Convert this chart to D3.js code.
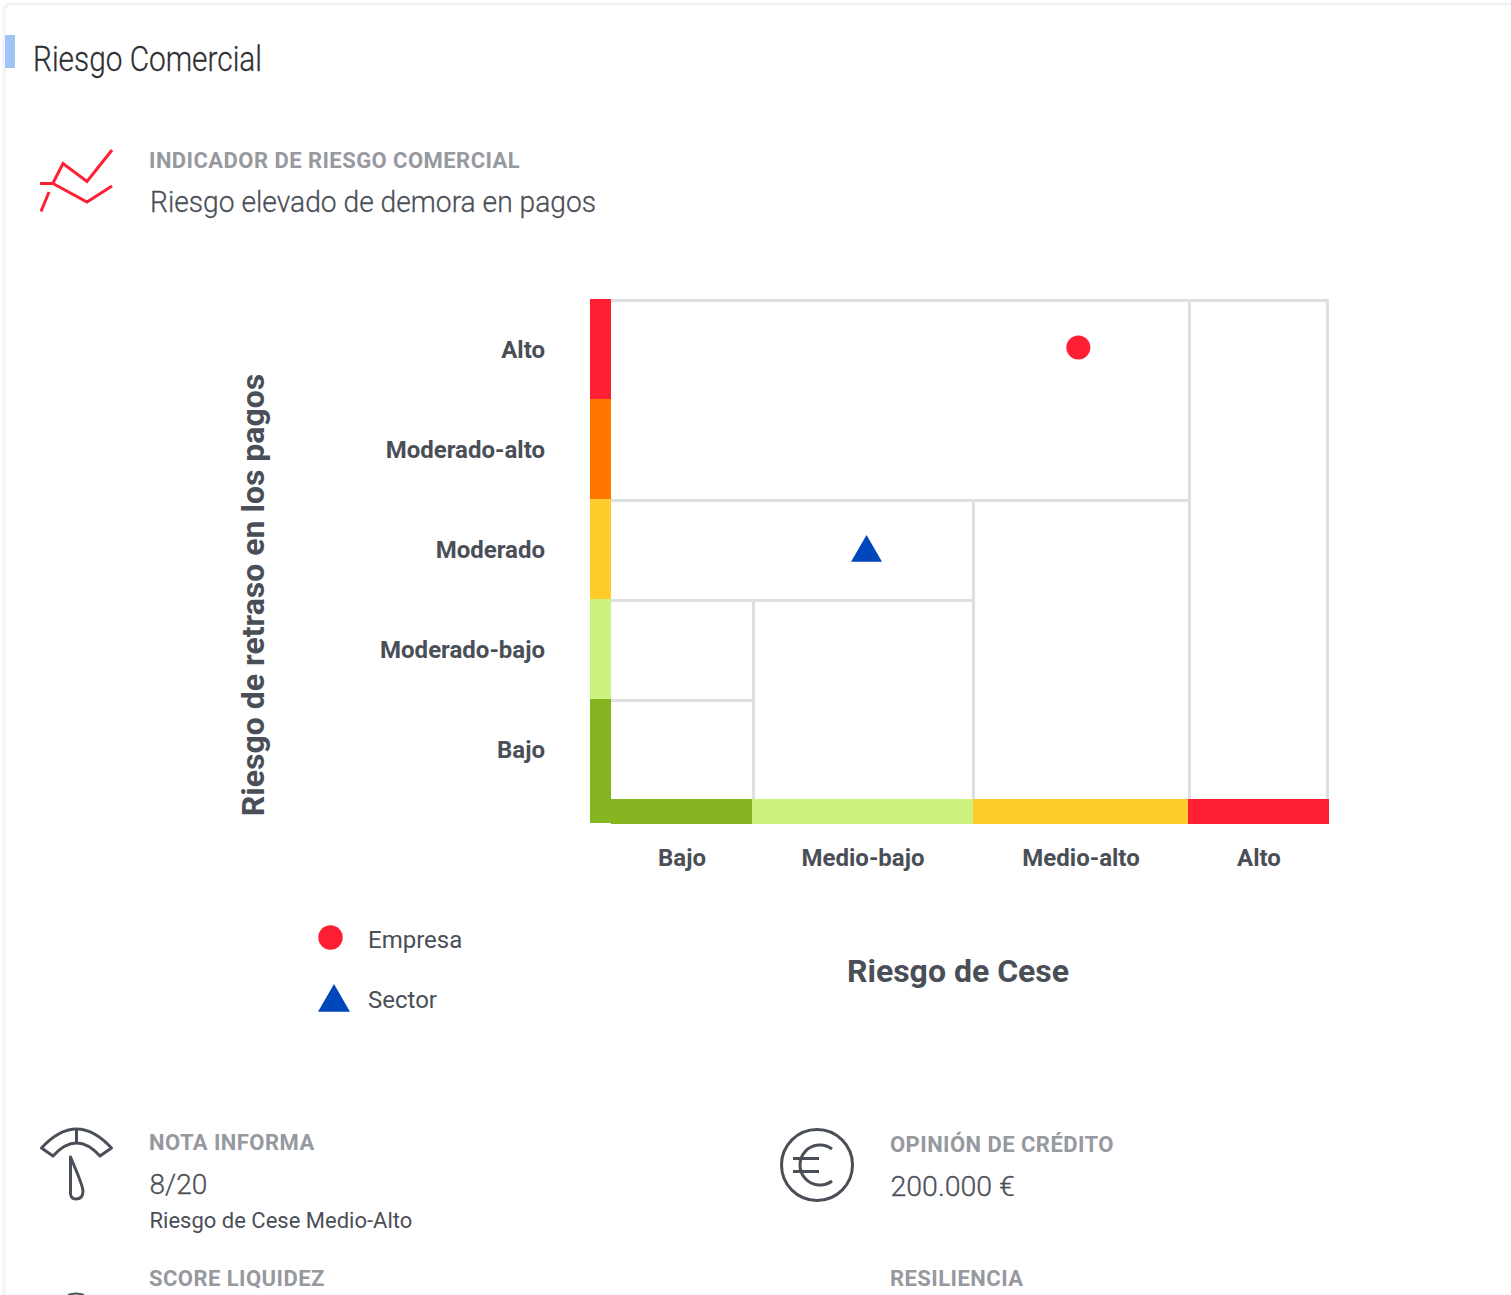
<!DOCTYPE html>
<html><head><meta charset="utf-8">
<script src="https://cdn.jsdelivr.net/npm/d3@7/dist/d3.min.js"></script>
<style>
html,body{margin:0;padding:0;background:#fff;overflow:hidden}
svg{display:block}
text{font-family:Roboto,sans-serif}
</style></head><body>
<div id="chart"></div>
<script>
const yCategories = ["Bajo","Moderado-bajo","Moderado","Moderado-alto","Alto"];
const xCategories = ["Bajo","Medio-bajo","Medio-alto","Alto"];
const yColors = ["#85b521","#ccf280","#ffcc2b","#ff7700","#ff1f35"];
const xColors = ["#85b521","#ccf280","#ffcc2b","#ff1f35"];
// zone boundaries in level units
const horizontalLevels = [1,2,3,5];
const horizontalReach = [1,2,3,4];
const verticalLevels = [1,2,3,4];
const verticalReach = [2,3,5,5];
const empresa = [2.49,4.515];
const sector = [1.52,2.505];
const legendItems = ["Empresa","Sector"];

const W=1511,H=1295, dark="#4a4f57", grey="#96999e", red="#ff1f35", blue="#0047bb", grid="#dde0e0";
const svg=d3.select("#chart").append("svg").attr("width",W).attr("height",H);

// page frame
svg.append("path").attr("d","M4,1295V12Q4,4 12,4H1511").attr("fill","none").attr("stroke","#f0f3f8").attr("stroke-width",3);
svg.append("rect").attr("x",5).attr("y",35).attr("width",10).attr("height",33).attr("fill","#a0c4f4");
svg.append("text").attr("x",33).attr("y",70.5).attr("font-size",34.5).attr("font-weight",300).attr("fill","#2d2f33").attr("stroke","#2d2f33").attr("stroke-width",0.3).attr("textLength",229).attr("lengthAdjust","spacingAndGlyphs").text("Riesgo Comercial");

function head(x,y,t){svg.append("text").attr("x",x).attr("y",y).attr("font-size",22).attr("font-weight",700).attr("letter-spacing",0.45).attr("fill",grey).text(t);}
function val(x,y,t,s,w,st){svg.append("text").attr("x",x).attr("y",y).attr("font-size",s).attr("font-weight",w).attr("fill",dark).attr("stroke",st?dark:"none").attr("stroke-width",st||0).text(t);}
head(149,168,"INDICADOR DE RIESGO COMERCIAL");
svg.append("text").attr("x",150).attr("y",212).attr("font-size",30).attr("font-weight",300).attr("fill",dark).attr("stroke",dark).attr("stroke-width",0.3).attr("textLength",446).attr("lengthAdjust","spacingAndGlyphs").text("Riesgo elevado de demora en pagos");

// trend icon
const ic=svg.append("g").attr("fill","none").attr("stroke",red).attr("stroke-width",3);
ic.append("path").attr("d","M40,183.500H53");
ic.append("path").attr("d","M53,183L63,163.500L87,181.500L112,150");
ic.append("path").attr("d","M53,183.500L87,202L112,186");
ic.append("path").attr("d","M41,211.500L49,192");

// scales
const x=d3.scaleLinear().domain([0,1,2,3,4]).range([611,752,973,1188,1329]);
const y=d3.scaleLinear().domain([0,5]).range([799,299]);
const g=svg.append("g");

// colour bars
g.selectAll("rect.ly").data(yCategories).join("rect").attr("class","ly")
 .attr("x",590).attr("width",21)
 .attr("y",(d,i)=>y(i+1)).attr("height",(d,i)=>y(i)-y(i+1)+(i===0?24:0))
 .attr("fill",(d,i)=>yColors[i]);
g.selectAll("rect.bx").data(xCategories).join("rect").attr("class","bx")
 .attr("x",(d,i)=>x(i)).attr("width",(d,i)=>x(i+1)-x(i))
 .attr("y",y(0)).attr("height",25)
 .attr("fill",(d,i)=>xColors[i]);

// zone lines
const lines=g.append("g").attr("fill","none").attr("stroke",grid).attr("stroke-width",3);
const vx=a=>x(a)+(a===4?-1.5:a===2?0.5:1.5);
horizontalLevels.forEach((b,i)=>lines.append("path").attr("d",`M${x(0)},${y(b)+1.5}H${vx(horizontalReach[i])}`));
verticalLevels.forEach((a,i)=>lines.append("path").attr("d",`M${vx(a)},${y(0)}V${y(verticalReach[i])}`));

// axes
const yBand=d3.scaleBand().domain(yCategories).range([800,300]);
const ya=g.append("g").attr("transform","translate(590,0)").call(d3.axisLeft(yBand).tickSize(0).tickPadding(45));
const xa=g.append("g").attr("transform","translate(0,824)").call(d3.axisBottom(x).tickValues(xCategories.map((d,i)=>i+.5)).tickFormat((d,i)=>xCategories[i]).tickSize(0).tickPadding(25));
[ya,xa].forEach(a=>{a.select(".domain").remove();a.selectAll("text").attr("font-family","Roboto,sans-serif").attr("font-size",24).attr("font-weight",700).attr("fill",dark);});

// axis titles
svg.append("text").attr("transform","translate(264,595) rotate(-90)").attr("text-anchor","middle").attr("font-size",32).attr("font-weight",700).attr("fill",dark).text("Riesgo de retraso en los pagos");
svg.append("text").attr("x",958).attr("y",982).attr("text-anchor","middle").attr("font-size",32).attr("font-weight",700).attr("fill",dark).text("Riesgo de Cese");

// marks
const sym=d3.symbol().type(d3.symbolCircle);
const tri=s=>d3.symbol().type(d3.symbolTriangle).size(s)();
g.append("path").attr("transform",`translate(${x(empresa[0])},${y(empresa[1])})`).attr("d",sym.size(Math.PI*12*12)()).attr("fill",red);
g.append("path").attr("transform",`translate(${x(sector[0])-0.4},${y(sector[1])+4.4})`).attr("d",tri(416)).attr("fill",blue);

// legend
svg.append("path").attr("transform","translate(330.500,937.500)").attr("d",sym.size(Math.PI*12.2*12.2)()).attr("fill",red);
svg.append("path").attr("transform","translate(334,1002.500)").attr("d",tri(443)).attr("fill",blue);
legendItems.forEach((t,i)=>svg.append("text").attr("x",368).attr("y",948+60*i).attr("font-size",24).attr("font-weight",400).attr("fill",dark).text(t));

// bottom blocks
head(149,1150,"NOTA INFORMA");
val(149.5,1194,"8/20",28,300,0.3);
val(149.5,1228,"Riesgo de Cese Medio-Alto",22,400);
head(149,1286,"SCORE LIQUIDEZ");
head(890,1152,"OPINIÓN DE CRÉDITO");
val(890.5,1196,"200.000 €",28.5,300,0.3);
head(890,1286,"RESILIENCIA");

// gauge icon
const gi=svg.append("g").attr("fill","none").attr("stroke",dark).attr("stroke-width",3);
gi.append("path").attr("d","M41.500,1148Q76.500,1110 111.500,1148L100,1156Q76.500,1130 53,1156Z").attr("stroke-linejoin","round");
gi.append("path").attr("d","M76.500,1130V1143");
gi.append("path").attr("d","M70.500,1157V1190Q69.500,1199 76,1199Q83,1199 83,1191Q83,1186 70.500,1157Z").attr("stroke-linejoin","round");
svg.append("path").attr("d","M68,1295Q76,1292 84,1295").attr("fill","none").attr("stroke",dark).attr("stroke-width",2);

// euro icon
const ei=svg.append("g").attr("fill","none").attr("stroke",dark).attr("stroke-width",3);
ei.append("circle").attr("cx",817).attr("cy",1165).attr("r",35.500);
ei.append("path").attr("d","M832,1149A20,20 0 1 0 832,1181");
ei.append("path").attr("d","M793,1158.500H819M793,1171.500H819");
</script></body></html>
